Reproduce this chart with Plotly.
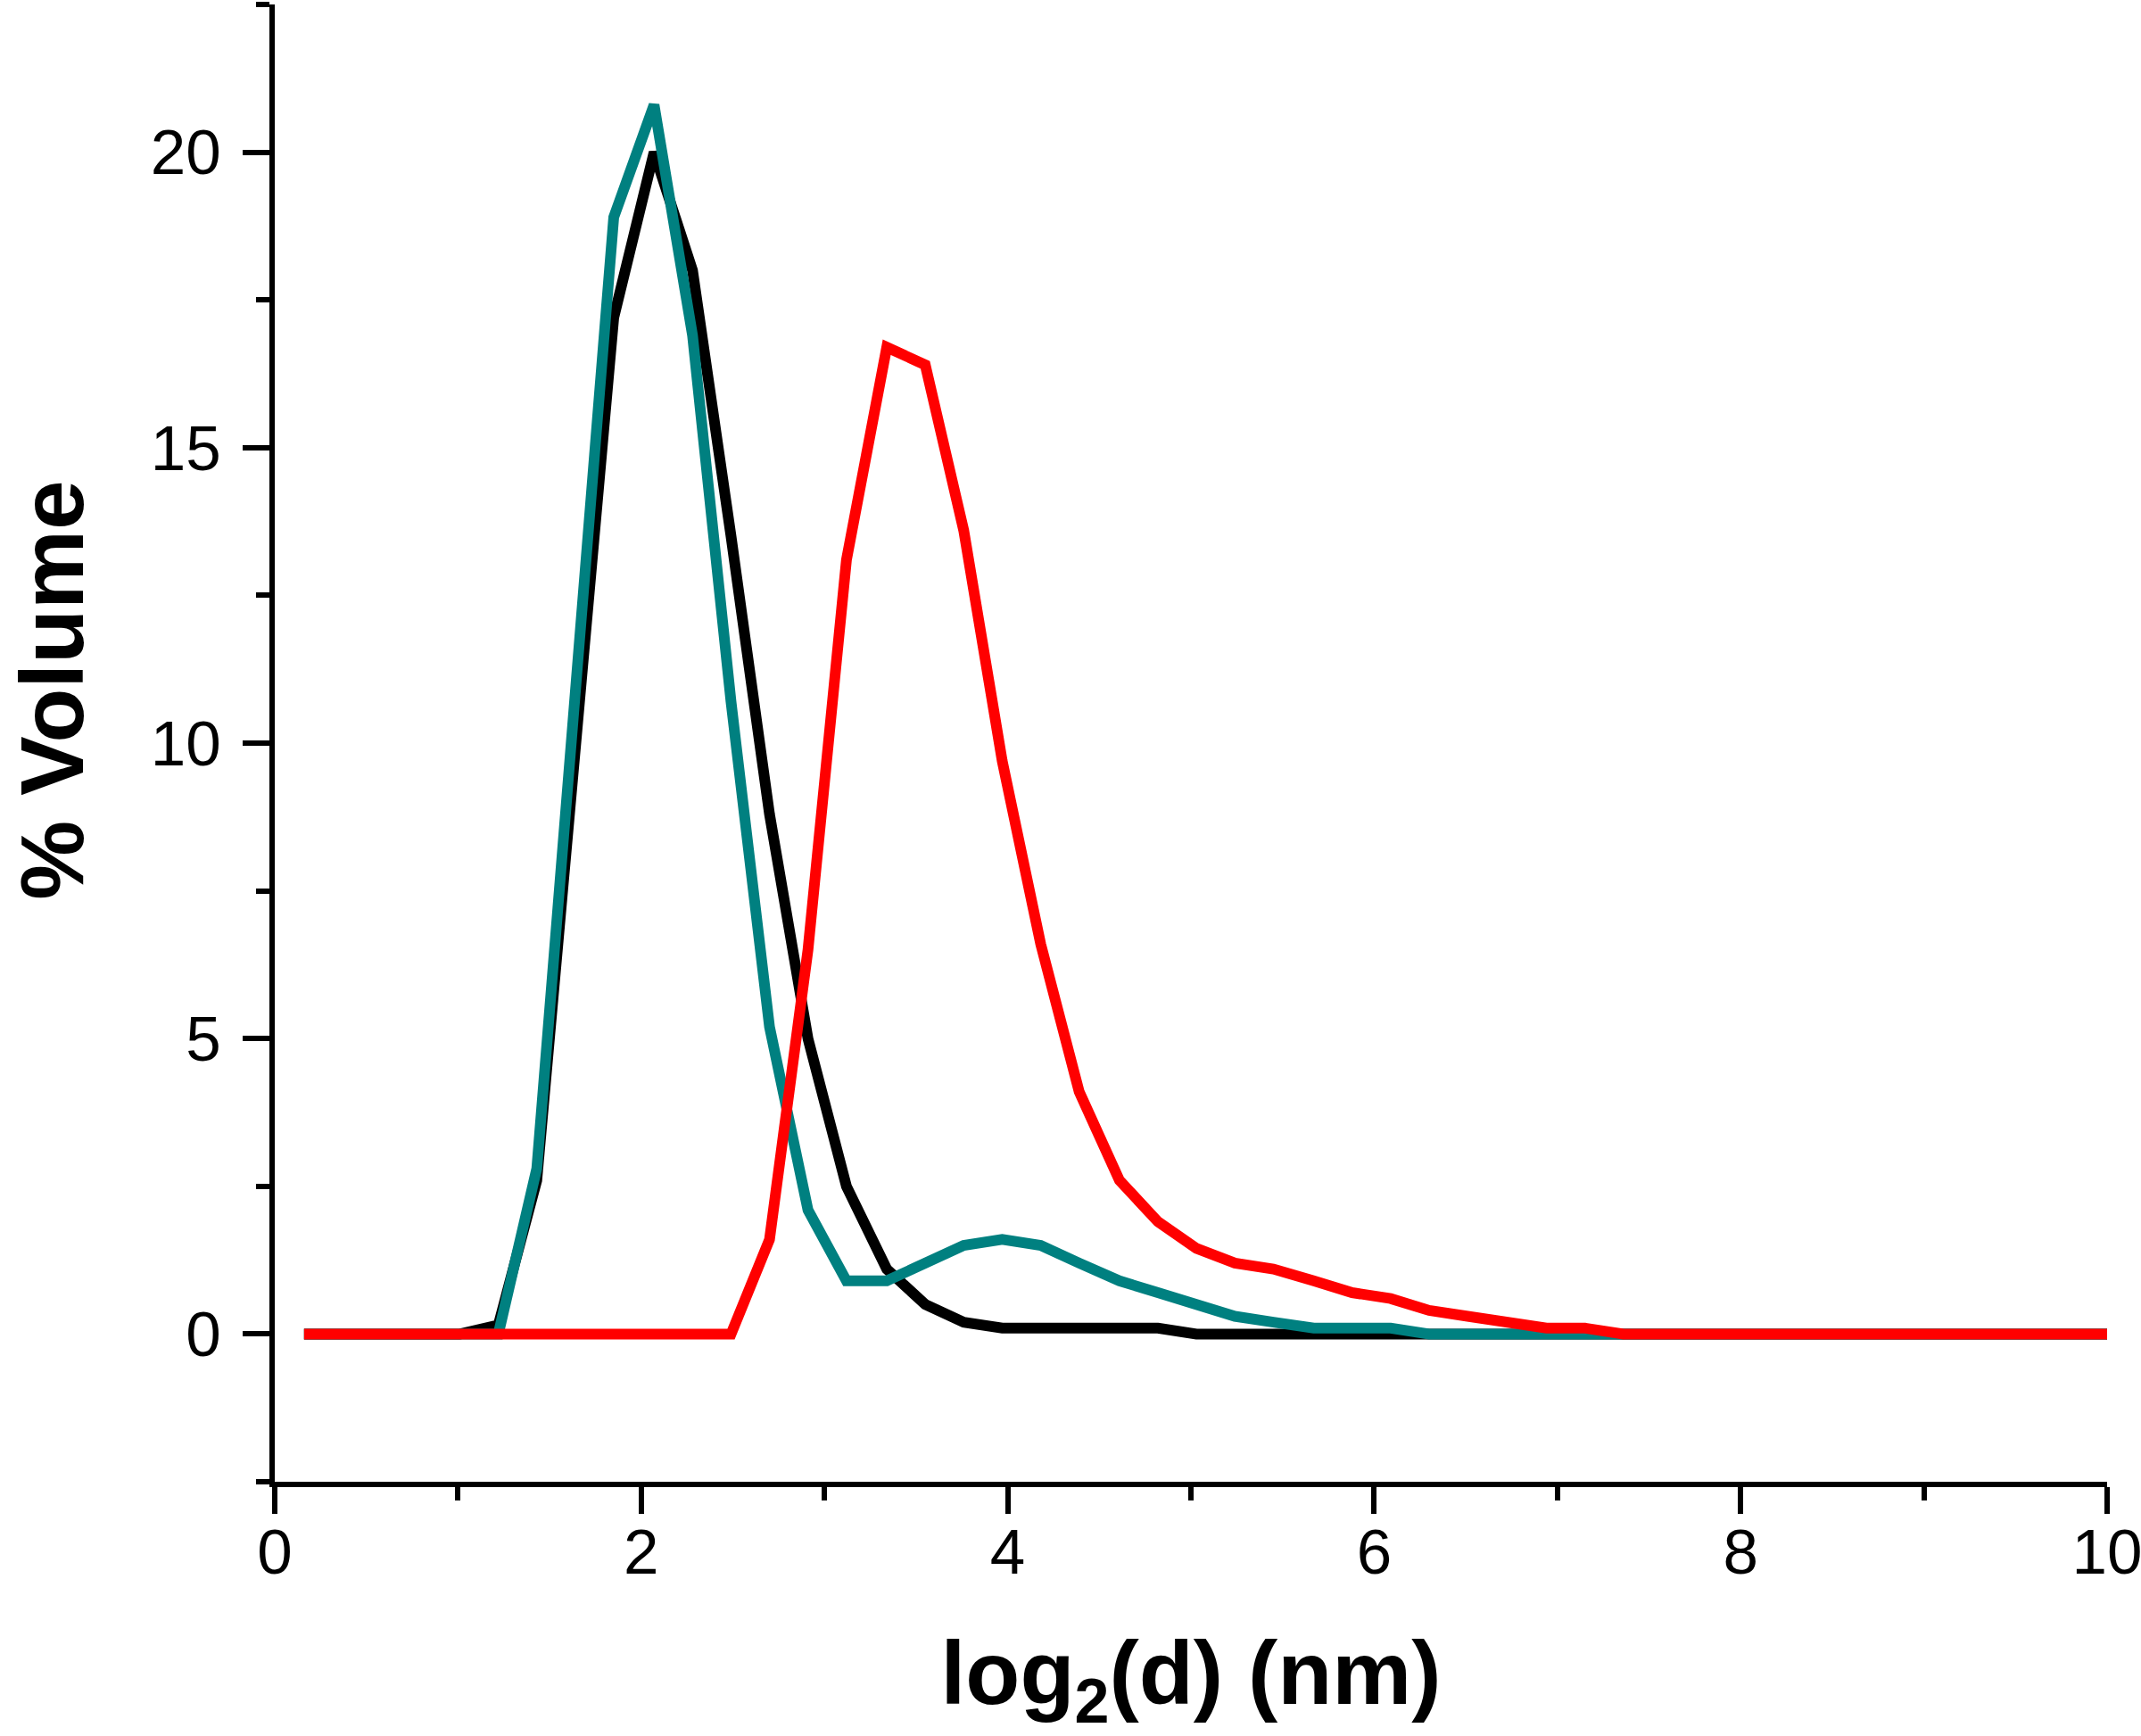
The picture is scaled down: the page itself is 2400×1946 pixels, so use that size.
import plotly.graph_objects as go

# log2(d) bin centres (nm)
x_vals = [0.16, 0.37, 0.58, 0.80, 1.01, 1.22, 1.43, 1.64, 1.85, 2.07,
          2.28, 2.49, 2.70, 2.91, 3.12, 3.34, 3.55, 3.76, 3.97, 4.18,
          4.39, 4.61, 4.82, 5.03, 5.24, 5.45, 5.67, 5.88, 6.09, 6.30,
          6.51, 6.72, 6.94, 7.15, 7.36, 7.57, 7.78, 7.99, 8.21, 8.42,
          8.63, 8.84, 9.05, 9.26, 9.48, 9.69, 9.90, 10.11]

black_vals = [0, 0, 0, 0, 0, 0.15, 2.6, 9.9, 17.2, 20.0,
              18.0, 13.5, 8.8, 5.0, 2.5, 1.1, 0.5, 0.2, 0.1, 0.1,
              0.1, 0.1, 0.1, 0, 0, 0, 0, 0, 0, 0,
              0, 0, 0, 0, 0, 0, 0, 0, 0, 0,
              0, 0, 0, 0, 0, 0, 0, 0]

teal_vals = [0, 0, 0, 0, 0, 0, 2.8, 10.8, 18.9, 20.8,
             16.9, 10.7, 5.2, 2.1, 0.9, 0.9, 1.2, 1.5, 1.6, 1.5,
             1.2, 0.9, 0.7, 0.5, 0.3, 0.2, 0.1, 0.1, 0.1, 0,
             0, 0, 0, 0, 0, 0, 0, 0, 0, 0,
             0, 0, 0, 0, 0, 0, 0, 0]

red_vals = [0, 0, 0, 0, 0, 0, 0, 0, 0, 0,
            0, 0, 1.6, 6.5, 13.1, 16.7, 16.4, 13.6, 9.7, 6.6,
            4.1, 2.6, 1.9, 1.45, 1.2, 1.1, 0.9, 0.7, 0.6, 0.4,
            0.3, 0.2, 0.1, 0.1, 0, 0, 0, 0, 0, 0,
            0, 0, 0, 0, 0, 0, 0, 0]

x_ticks = [0, 2, 4, 6, 8, 10]
y_ticks = [0, 5, 10, 15, 20]

x_title = "<b>log<sub>2</sub>(d) (nm)</b>"
y_title = "<b>% Volume</b>"

FONT = "Arial, 'Liberation Sans', sans-serif"
LW = 12

fig = go.Figure()
for vals, col in [(black_vals, "#000000"), (teal_vals, "#008080"), (red_vals, "#FF0000")]:
    fig.add_trace(go.Scatter(x=x_vals, y=vals, mode="lines",
                             line=dict(color=col, width=LW),
                             showlegend=False, hoverinfo="skip"))

axis_common = dict(
    showline=True, linecolor="black", linewidth=6,
    showgrid=False, zeroline=False, automargin=False,
    ticks="outside", ticklen=30, tickwidth=6, tickcolor="black",
    tickfont=dict(family=FONT, size=71, color="black"),
    ticklabeloverflow="allow", ticklabelposition="outside",
    mirror=False,
)

fig.update_xaxes(
    range=[0, 10], tickvals=x_ticks, ticktext=[str(v) for v in x_ticks],
    minor=dict(ticks="outside", dtick=1, tick0=0, ticklen=15, tickwidth=6, tickcolor="black"),
    ticklabelstandoff=-18,
    title=dict(text=x_title,
               font=dict(family=FONT, size=100, color="black"), standoff=110),
    **axis_common,
)
fig.update_yaxes(
    range=[-2.5, 22.5], tickvals=y_ticks, ticktext=[str(v) for v in y_ticks],
    minor=dict(ticks="outside", dtick=2.5, tick0=0, ticklen=15, tickwidth=6, tickcolor="black"),
    ticklabelstandoff=10,
    **axis_common,
)

# y-axis title placed as a rotated annotation (it sits above the axis centre)
fig.add_annotation(text=y_title, textangle=-90, showarrow=False,
                   xref="paper", yref="paper", x=-0.1215, y=0.536,
                   xanchor="center", yanchor="middle",
                   font=dict(family=FONT, size=100, color="black"))

fig.update_layout(
    width=2400, height=1946,
    margin=dict(l=308, r=38, t=5, b=285, pad=0),
    plot_bgcolor="white", paper_bgcolor="white",
)

fig.write_html("out.html", config={"displayModeBar": False},
               post_script="document.body.style.margin='0';document.body.style.padding='0';document.body.style.overflow='hidden';")
